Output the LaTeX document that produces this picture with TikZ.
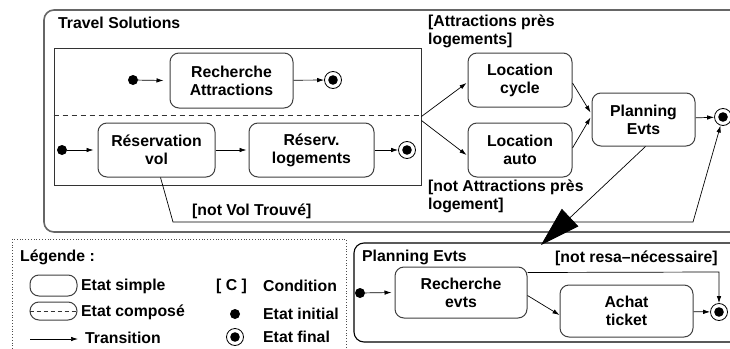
\documentclass[tikz,border=0pt]{standalone}
\usepackage{fontspec}
\setmainfont{Liberation Sans}
\usetikzlibrary{arrows.meta,calc}
\begin{document}
\begin{tikzpicture}[x=1pt,y=-1pt,
  font=\bfseries\fontsize{15.8}{18}\selectfont,
  state/.style={draw=black!75, line width=1pt, rounded corners=9pt, align=center, inner sep=0pt},
  initst/.style={circle, fill=black, minimum size=10pt, inner sep=0pt},
  finalst/.style={circle, draw=black, line width=0.8pt, fill=white, minimum size=17pt, inner sep=0pt,
     path picture={\fill[black] (path picture bounding box.center) circle (4.8pt);}},
  tr/.style={-{Latex[length=7pt,width=4.5pt]}, line width=0.7pt},
  lbl/.style={anchor=west, align=left, inner sep=0pt},
]
\useasboundingbox (0,0) rectangle (730,348);
\fill[white] (0,0) rectangle (730,348);

% ---------- Travel Solutions composite ----------
\draw[black!60, line width=1.6pt, rounded corners=10pt] (44,10) rectangle (760,232);
\node[lbl] (tstitle) at (58,23) {Travel Solutions};

\node[draw=black!80, line width=0.9pt, minimum width=367pt, minimum height=137pt, inner sep=0pt] (conc) at (237.5,116.5) {};
\draw[dashed, black!80, line width=0.8pt, dash pattern=on 5pt off 4pt] (conc.west |- 0,115) coordinate (dl) -- (conc.east |- 0,115) coordinate (dr);

\node[initst] (i1) at (133,80) {};
\node[state, minimum width=123pt, minimum height=55pt] (ra) at (231.5,80.5) {Recherche\\Attractions};
\node[finalst] (f1) at (333,80) {};
\draw[tr] (i1) -- ($(ra.west)+(-6,0)$) coordinate (ra_in);
\draw[tr] (ra) -- (f1);

\node[initst] (i2) at (62,150) {};
\node[state, minimum width=117pt, minimum height=54pt] (rv) at (156.5,150) {Réservation\\vol};
\node[state, minimum width=125pt, minimum height=54pt] (rl) at (311.5,150) {Réserv.\\logements};
\node[finalst] (f2) at (407,150) {};
\draw[tr] (i2) -- ($(rv.west)+(-4,0)$) coordinate (rv_in);
\draw[tr] (rv) -- ($(rl.west)+(-2,0)$) coordinate (rl_in);
\draw[tr] (rl) -- (f2);

\node[state, minimum width=104pt, minimum height=54pt] (lc) at (520,80) {Location\\cycle};
\node[state, minimum width=104pt, minimum height=54pt] (la) at (520,150) {Location\\auto};
\node[state, minimum width=103pt, minimum height=53pt] (pe) at (643.5,119.5) {Planning\\Evts};
\node[finalst] (f3) at (723,117) {};

\draw[tr] (conc.east) -- ($(lc.west)+(-1,3)$) coordinate (lc_in);
\draw[tr] ($(conc.east)+(0,4)$) -- ($(la.west)+(-1,5)$) coordinate (la_in);
\draw[tr] ($(lc.east)+(0,3)$) -- ($(pe.west)+(-1,-7)$) coordinate (pe_in1);
\draw[tr] ($(la.east)+(0,-2)$) -- ($(pe.west)+(-1,-2)$) coordinate (pe_in2);
\draw[tr] (pe) -- (f3);

\node[lbl] (c1) at (428,31) {[Attractions près\\logements]};
\node[lbl] (c2) at (428,196) {[not Attractions près\\logement]};

\coordinate (nv1) at (173,222);
\coordinate (nv2) at (693,222);
\draw[tr] ($(rv.south)+(4,0)$) -- (nv1) -- (nv2) -- (f3);
\node[lbl] (c3) at (192,211) {[not Vol Trouvé]};

% big arrow toward Planning Evts detail
\coordinate (bigtip) at (541,245);
\draw[-{Triangle[length=40pt,width=24pt]}, line width=0.7pt] ($(pe.south)+(2,0)$) -- (bigtip);

% ---------- Planning Evts detail ----------
\draw[black, line width=1.1pt, rounded corners=10pt] (354,243) rectangle (760,342);
\node[lbl] (pdtitle) at (362,257) {Planning Evts};
\node[initst] (i3) at (360,293) {};
\node[state, minimum width=132pt, minimum height=51pt] (re) at (461,292.5) {Recherche\\evts};
\node[state, minimum width=133pt, minimum height=52pt] (at) at (626.5,311) {Achat\\ticket};
\node[finalst] (f4) at (719,312) {};
\draw[tr] (i3) -- ($(re.west)+(-3,0)$) coordinate (re_in);
\draw[tr] ($(re.east)+(0,3)$) -- ($(at.west)+(0,4)$);
\draw[tr] (at) -- (f4);
\coordinate (nr1) at (719,272);
\draw[tr] ($(re.east)+(0,-20)$) -- (nr1) -- (f4);
\node[lbl] (c4) at (555,258) {[not resa–nécessaire]};

% ---------- Legend ----------
\draw[black!70, line width=0.8pt, dotted] (12,239) rectangle (346,360);
\node[lbl] (lgt) at (20,257) {Légende :};
\node[state, minimum width=47pt, minimum height=21pt] (ls) at (53.5,285.5) {};
\node[lbl] (lst) at (81,286) {Etat simple};
\node[state, minimum width=47pt, minimum height=18pt] (lc2) at (53.5,311) {};
\draw[dashed, black!80, line width=0.8pt, dash pattern=on 4pt off 3pt] (lc2.west) -- (lc2.east);
\node[lbl] (lct) at (81,312) {Etat composé};
\coordinate (lta) at (30,339);
\coordinate (ltb) at (78,339);
\draw[tr] (lta) -- (ltb);
\node[lbl] (ltt) at (85,338) {Transition};
\node[lbl] (lcd) at (216,286) {[ C ]};
\node[lbl] (lcdt) at (263,286) {Condition};
\node[initst] (li) at (235,314) {};
\node[lbl] (lit) at (263,314) {Etat initial};
\node[finalst] (lf) at (235,337) {};
\node[lbl] (lft) at (263,337) {Etat final};
\end{tikzpicture}
\end{document}
